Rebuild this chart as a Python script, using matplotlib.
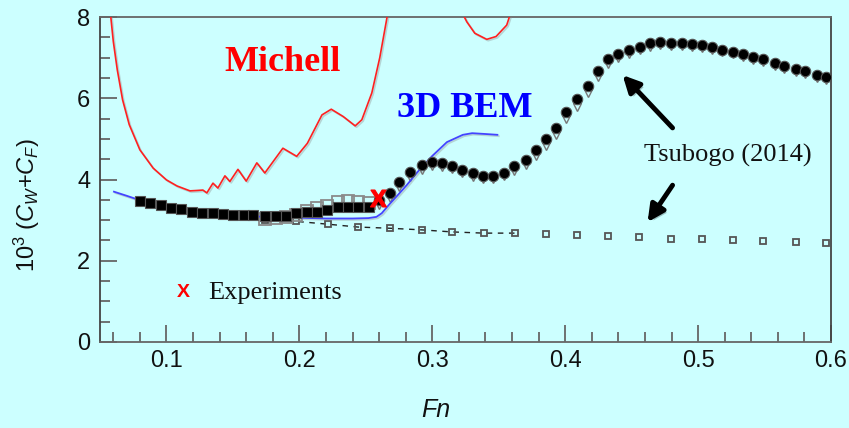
import numpy as np
import matplotlib
matplotlib.use("Agg")
import matplotlib.pyplot as plt
import matplotlib.patheffects as pe
from matplotlib.ticker import MultipleLocator

# ---------------- data ----------------
# Michell theory (two visible branches)
michell_fn = [0.0575, 0.0600, 0.0630, 0.0670, 0.0720, 0.0800, 0.0900, 0.1000, 0.1080,
              0.1177, 0.1230, 0.1274, 0.1304, 0.1350, 0.1387, 0.1440, 0.1477, 0.1538,
              0.1600, 0.1680, 0.1740, 0.1876, 0.1980, 0.2060, 0.2170, 0.2240, 0.2330,
              0.2420, 0.2470, 0.2545, 0.2605, 0.2660, 0.2680]
michell_c = [8.20, 7.40, 6.70, 5.96, 5.35, 4.73, 4.28, 3.99, 3.84,
             3.72, 3.73, 3.74, 3.67, 3.91, 3.79, 4.09, 3.95, 4.25,
             3.96, 4.41, 4.16, 4.77, 4.57, 4.89, 5.59, 5.73, 5.55,
             5.32, 5.47, 6.13, 7.00, 8.00, 8.40]
michell2_fn = [0.3210, 0.3260, 0.3320, 0.3410, 0.3480, 0.3560, 0.3590]
michell2_c = [8.20, 7.88, 7.60, 7.45, 7.52, 7.80, 8.10]

# 3D BEM
bem_fn = [0.0605, 0.0700, 0.0800, 0.0900, 0.1000, 0.1100, 0.1200, 0.1350, 0.1500,
          0.1650, 0.1800, 0.2000, 0.2200, 0.2400, 0.2520, 0.2580, 0.2620, 0.2680,
          0.2750, 0.2810, 0.2906, 0.3000, 0.3110, 0.3230, 0.3300, 0.3400, 0.3490]
bem_c = [3.70, 3.60, 3.49, 3.40, 3.32, 3.26, 3.20, 3.15, 3.11,
         3.09, 3.08, 3.06, 3.04, 3.04, 3.05, 3.08, 3.17, 3.40,
         3.65, 3.87, 4.25, 4.58, 4.92, 5.10, 5.14, 5.12, 5.10]

# Tsubogo (2014): filled squares (low Fn)
tsq_fn = [0.0801, 0.0876, 0.0959, 0.1034, 0.1109, 0.1192, 0.1267, 0.1350, 0.1425,
          0.1500, 0.1583, 0.1650, 0.1741, 0.1823, 0.1898, 0.1974, 0.2056, 0.2132,
          0.2207, 0.2289, 0.2365, 0.2440, 0.2523]
tsq_c = [3.47, 3.42, 3.37, 3.30, 3.27, 3.20, 3.18, 3.17, 3.15,
         3.13, 3.13, 3.13, 3.10, 3.10, 3.10, 3.18, 3.19, 3.19,
         3.25, 3.32, 3.33, 3.32, 3.33]

# Tsubogo (2014): filled circles (higher Fn)
tci_fn = [0.2598, 0.2680, 0.2748, 0.2831, 0.2921, 0.2996, 0.3071, 0.3147, 0.3222,
          0.3305, 0.3380, 0.3455, 0.3538, 0.3613, 0.3703, 0.3778, 0.3853, 0.3929,
          0.4004, 0.4087, 0.4169, 0.4244, 0.4320, 0.4395, 0.4477, 0.4560, 0.4635,
          0.4711, 0.4793, 0.4876, 0.4951, 0.5026, 0.5102, 0.5177, 0.5259, 0.5335,
          0.5410, 0.5492, 0.5575, 0.5650, 0.5733, 0.5808, 0.5891, 0.5966]
tci_c = [3.50, 3.66, 3.95, 4.19, 4.36, 4.43, 4.41, 4.34, 4.23,
         4.15, 4.09, 4.09, 4.17, 4.33, 4.48, 4.73, 4.99, 5.28,
         5.67, 5.97, 6.30, 6.68, 6.96, 7.08, 7.19, 7.27, 7.35,
         7.39, 7.36, 7.35, 7.33, 7.31, 7.27, 7.20, 7.15, 7.09,
         7.02, 6.96, 6.87, 6.80, 6.71, 6.66, 6.57, 6.53]

# Tsubogo (2014): open triangles
ttri_c = [3.38, 3.55, 3.82, 4.05, 4.24, 4.33, 4.32, 4.26, 4.15,
          4.07, 4.01, 4.01, 4.08, 4.22, 4.36, 4.58, 4.83, 5.10,
          5.48, 5.78, 6.13, 6.52, 6.85, 6.99, 7.10, 7.19, 7.27,
          7.31, 7.29, 7.28, 7.26, 7.24, 7.20, 7.13, 7.08, 7.02,
          6.95, 6.89, 6.80, 6.73, 6.64, 6.59, 6.50, 6.46]

# Tsubogo (2014): large open squares
tos_fn = [0.1741, 0.1823, 0.1898, 0.1974, 0.2056, 0.2132, 0.2207, 0.2289, 0.2365,
          0.2440, 0.2523]
tos_c = [3.03, 3.05, 3.07, 3.12, 3.22, 3.30, 3.36, 3.45, 3.46, 3.45, 3.42]

# Frictional line (small open squares, dashed)
cf_fn = [0.0801, 0.1034, 0.1267, 0.1500, 0.1741, 0.1974, 0.2214, 0.2440, 0.2680,
         0.2921, 0.3147, 0.3387, 0.3620, 0.3853, 0.4087, 0.4320, 0.4553, 0.4793,
         0.5026, 0.5259, 0.5492, 0.5733, 0.5966]
cf_c = [3.42, 3.27, 3.15, 3.07, 3.01, 2.97, 2.90, 2.83, 2.80,
        2.76, 2.71, 2.68, 2.68, 2.66, 2.63, 2.61, 2.58, 2.54,
        2.54, 2.51, 2.49, 2.47, 2.44]
cf_dash_end = 0.3620

# Experiment
exp_fn = [0.2590]
exp_c = [3.54]

# ---------------- figure ----------------
BG = '#ccffff'
W, H = 849, 428
fig = plt.figure(figsize=(W / 100, H / 100), dpi=100, facecolor=BG)
ax = fig.add_axes([100 / W, 1 - 342 / H, (831 - 100) / W, (342 - 17) / H])
ax.set_facecolor(BG)

plt.rcParams['mathtext.fontset'] = 'custom'
plt.rcParams['mathtext.rm'] = 'Liberation Sans'
plt.rcParams['mathtext.it'] = 'Liberation Sans:italic'
plt.rcParams['mathtext.bf'] = 'Liberation Sans:bold'

shadow = [pe.SimpleLineShadow(offset=(1, -1), shadow_color='#888888', alpha=0.35), pe.Normal()]

# Michell
ax.plot(michell_fn, michell_c, color='#ff2020', lw=1.2, path_effects=shadow, zorder=3)
ax.plot(michell2_fn, michell2_c, color='#ff2020', lw=1.2, path_effects=shadow, zorder=3)

# CF dashed line + small squares
cf_fn_a = np.array(cf_fn)
cf_c_a = np.array(cf_c)
mask = (cf_fn_a >= 0.17) & (cf_fn_a <= cf_dash_end)
ax.plot(cf_fn_a[mask], cf_c_a[mask], ls=(0, (4, 4)), color='#222222', lw=1.0, zorder=2)
ax.plot(cf_fn, cf_c, ls='none', marker='s', ms=5, mfc='none', mec='#555555', mew=1.3, zorder=2)

# large open squares
ax.plot(tos_fn, tos_c, ls='none', marker='s', ms=8, mfc='none', mec='#8a8a8a', mew=1.3, zorder=3)

# triangles
ax.plot(tci_fn, ttri_c, ls='none', marker='v', ms=6, mfc='none', mec='#777777', mew=1.0, zorder=3)

# BEM
ax.plot(bem_fn, bem_c, color='#4444ff', lw=1.3, path_effects=shadow, zorder=4)

# filled squares & circles
ax.plot(tsq_fn, tsq_c, ls='none', marker='s', ms=7.5, mfc='black', mec='#555555', mew=0.8, zorder=5)
ax.plot(tci_fn, tci_c, ls='none', marker='o', ms=7.5, mfc='black', mec='#555555', mew=0.8, zorder=5)

# experiment
ax.plot(exp_fn, exp_c, ls='none', marker=r'$\mathbf{X}$', ms=12, color='#ff0000', zorder=6)

# ---------------- axes ----------------
ax.set_xlim(0.05, 0.6)
ax.set_ylim(0, 8)
ax.xaxis.set_minor_locator(MultipleLocator(0.02))
ax.yaxis.set_minor_locator(MultipleLocator(0.5))
ax.set_xticks([0.1, 0.2, 0.3, 0.4, 0.5, 0.6])
ax.set_xticklabels(['0.1', '0.2', '0.3', '0.4', '0.5', '0.6'])
ax.set_yticks([0, 2, 4, 6, 8])
ax.set_yticklabels(['0', '2', '4', '6', '8'])
ax.tick_params(which='both', direction='in', color='#666666', width=1.3,
               top=False, right=False)
ax.tick_params(which='major', length=12, labelsize=17, labelcolor='#111111')
ax.tick_params(which='minor', length=7)
ax.tick_params(axis='x', which='major', pad=6)
ax.tick_params(axis='y', which='major', pad=7)
for lab in ax.get_xticklabels() + ax.get_yticklabels():
    lab.set_fontfamily('Liberation Sans')
for s in ['left', 'bottom', 'right', 'top']:
    ax.spines[s].set_color('#666666')
    ax.spines[s].set_linewidth(1.3)
ax.spines['left'].set_color('#444444')
ax.spines['right'].set_color('#444444')

# labels
fig.text(27 / W, 1 - 205 / H, r'10$^3$ ($C_W$+$C_F$)', rotation=90, ha='center', va='center',
         fontsize=17, family='Liberation Sans', color='#111111')
fig.text(436 / W, 1 - 410 / H, 'Fn', ha='center', va='center', fontsize=18,
         family='Liberation Sans', style='italic', color='#111111')

# annotations
ax.text(0.1876, 6.87, 'Michell', color='#ff0000', fontsize=26, fontweight='bold',
        family='Liberation Serif', ha='center', va='center')
ax.text(0.3244, 5.74, '3D BEM', color='#0000ff', fontsize=26, fontweight='bold',
        family='Liberation Serif', ha='center', va='center')
ax.text(0.522, 4.58, 'Tsubogo (2014)', color='#111111', fontsize=19,
        family='Liberation Serif', ha='center', va='center')
ax.text(0.1312, 1.21, 'Experiments', color='#111111', fontsize=19,
        family='Liberation Serif', ha='left', va='center')
ax.text(0.1124, 1.21, 'X', color='#ff0000', fontsize=14, fontweight='bold',
        family='Liberation Sans', ha='center', va='center')

arrow_pe = [pe.SimplePatchShadow(offset=(2, -2), alpha=0.25), pe.Normal()]
for (tx, ty), (hx, hy) in [((0.4808, 5.27), (0.4432, 6.57)), ((0.4808, 3.86), (0.4620, 2.95))]:
    ax.annotate('', xy=(hx, hy), xytext=(tx, ty),
                arrowprops=dict(arrowstyle='-|>,head_length=1.0,head_width=0.5', lw=3.5,
                                color='black', shrinkA=0, shrinkB=0,
                                path_effects=arrow_pe), zorder=7)

fig.savefig('out.png', dpi=100, facecolor=BG)
